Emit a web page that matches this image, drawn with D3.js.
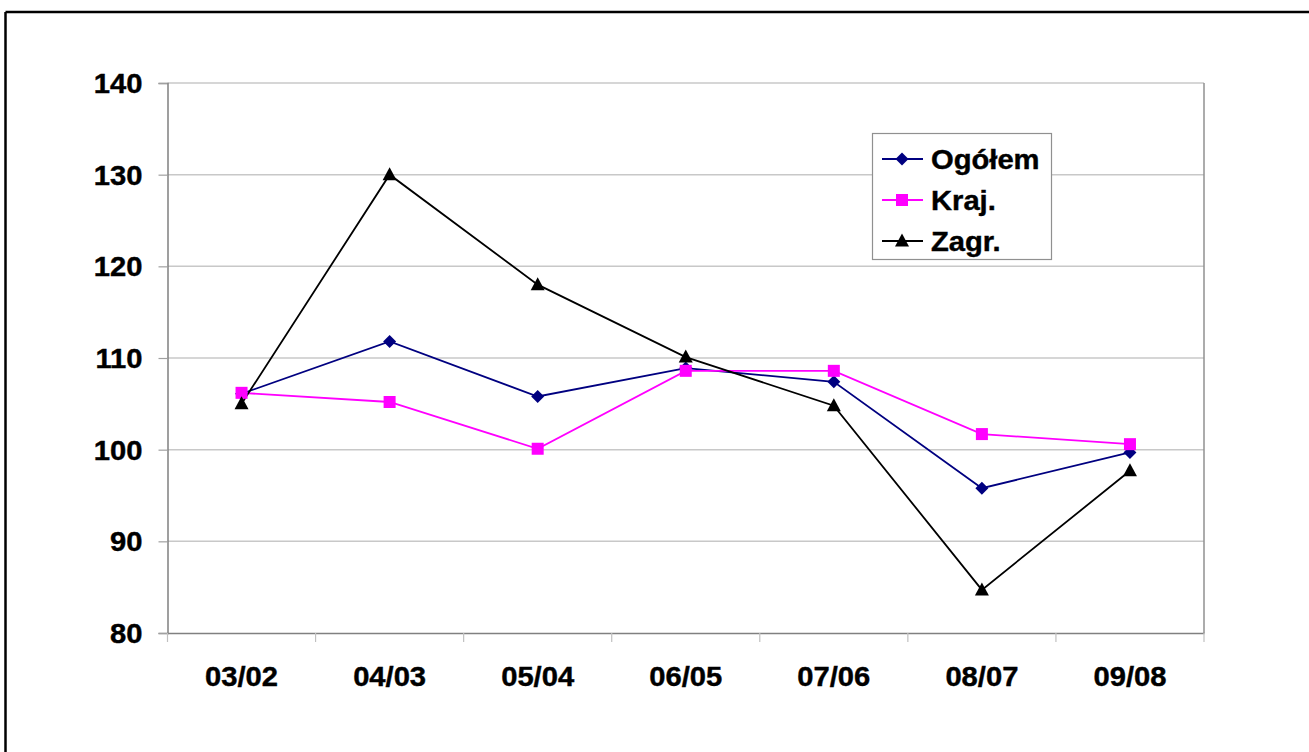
<!DOCTYPE html>
<html>
<head>
<meta charset="utf-8">
<script src="https://cdn.jsdelivr.net/npm/d3@7"></script>
<style>
  html, body { margin: 0; padding: 0; background: #fff; }
  svg { display: block; }
  text { font-family: "Liberation Sans", Arial, sans-serif; font-weight: bold; fill: #000; }
</style>
</head>
<body>
<svg id="chart" width="1309" height="752"></svg>
<script>
const categories = ["03/02", "04/03", "05/04", "06/05", "07/06", "08/07", "09/08"];
const ogolem = [106.1, 111.8, 105.8, 108.9, 107.4, 95.8, 99.7];
const kraj   = [106.2, 105.2, 100.1, 108.6, 108.6, 101.7, 100.6];
const zagr   = [105.0, 130.0, 118.0, 110.1, 104.8, 84.7, 97.7];
const yTicks = [80, 90, 100, 110, 120, 130, 140];
const seriesNames = ["Ogółem", "Kraj.", "Zagr."];

(function () {
const series = [
  { name: seriesNames[0], values: ogolem, color: "#000080", marker: "diamond" },
  { name: seriesNames[1], values: kraj,   color: "#FF00FF", marker: "square" },
  { name: seriesNames[2], values: zagr,   color: "#000000", marker: "triangle" }
];

const svg = d3.select("#chart");
const pL = 167.5, pR = 1204, pT = 83, pB = 633;
const sx = 1.08;

// outer frame (only top and left edges visible)
svg.append("line").attr("x1", 5.5).attr("x2", 1309).attr("y1", 12).attr("y2", 12)
  .attr("stroke", "#000").attr("stroke-width", 2.5);
svg.append("line").attr("x1", 5.5).attr("x2", 5.5).attr("y1", 12).attr("y2", 752)
  .attr("stroke", "#000").attr("stroke-width", 2.5);

const x = d3.scaleBand().domain(categories).range([pL, pR]);
const y = d3.scaleLinear().domain([80, 140]).range([pB, pT]);

// gridlines
svg.append("g").selectAll("line").data(yTicks.filter(t => t > 80)).join("line")
  .attr("x1", pL).attr("x2", pR)
  .attr("y1", d => y(d)).attr("y2", d => y(d))
  .attr("stroke", "#c8c8c8").attr("stroke-width", 1.5);

// right edge of plot area
svg.append("line").attr("x1", pR).attr("x2", pR).attr("y1", pT).attr("y2", pB)
  .attr("stroke", "#909090").attr("stroke-width", 1.5);

// y axis
const yAxis = svg.append("g").attr("transform", `translate(${pL},0)`)
  .call(d3.axisLeft(y).tickValues(yTicks).tickSize(9).tickPadding(0).tickFormat(d3.format("d")));
yAxis.select(".domain").attr("stroke", "#808080").attr("stroke-width", 1.5);
yAxis.selectAll(".tick line").attr("stroke", "#a0a0a0").attr("stroke-width", 1.2);
yAxis.selectAll(".tick text").remove();
yAxis.selectAll(".tick").append("text")
  .attr("text-anchor", "end")
  .attr("transform", "translate(-25,9.5) scale(" + sx + ",1)")
  .attr("font-size", 27)
  .attr("stroke", "#000").attr("stroke-width", 0.4)
  .text(d => d);

// x axis
const xAxis = svg.append("g").attr("transform", `translate(0,${pB})`)
  .call(d3.axisBottom(x).tickSize(0).tickFormat(""));
xAxis.select(".domain").attr("stroke", "#808080").attr("stroke-width", 1.5);
xAxis.selectAll(".tick").remove();
// category boundary ticks
const bounds = categories.map(c => x(c)).concat([x(categories[categories.length - 1]) + x.bandwidth()]);
svg.append("g").selectAll("line").data(bounds).join("line")
  .attr("x1", d => d).attr("x2", d => d)
  .attr("y1", pB).attr("y2", pB + 9)
  .attr("stroke", "#c0c0c0").attr("stroke-width", 1.2);
svg.append("g").selectAll("text").data(categories).join("text")
  .attr("text-anchor", "middle")
  .attr("font-size", 27)
  .attr("stroke", "#000").attr("stroke-width", 0.4)
  .attr("transform", d => `translate(${x(d) + x.bandwidth() / 2},${pB + 53}) scale(${sx},1)`)
  .text(d => d);

// markers
function drawMarker(g, type, color) {
  if (type === "diamond") {
    g.append("path").attr("d", "M0,-6.5L6.5,0L0,6.5L-6.5,0Z").attr("fill", color);
  } else if (type === "square") {
    g.append("rect").attr("x", -6).attr("y", -6).attr("width", 12).attr("height", 12).attr("fill", color);
  } else {
    g.append("path").attr("d", "M0,-7.5L7,5.5L-7,5.5Z").attr("fill", color);
  }
}

const line = d3.line()
  .x((d, i) => x(categories[i]) + x.bandwidth() / 2)
  .y(d => y(d));

series.forEach(s => {
  svg.append("path").datum(s.values).attr("d", line)
    .attr("fill", "none").attr("stroke", s.color).attr("stroke-width", 1.8);
});
series.forEach(s => {
  s.values.forEach((v, i) => {
    const g = svg.append("g").attr("transform", `translate(${x(categories[i]) + x.bandwidth() / 2},${y(v)})`);
    drawMarker(g, s.marker, s.color);
  });
});

// legend
const lg = svg.append("g");
lg.append("rect").attr("x", 872.5).attr("y", 133.5).attr("width", 179).attr("height", 126)
  .attr("fill", "#fff").attr("stroke", "#909090").attr("stroke-width", 1.2);
const rowY = d3.scalePoint().domain(seriesNames).range([159, 241]);
series.forEach(s => {
  const yy = rowY(s.name);
  lg.append("line").attr("x1", 882).attr("x2", 923).attr("y1", yy).attr("y2", yy)
    .attr("stroke", s.color).attr("stroke-width", 1.8);
  const g = lg.append("g").attr("transform", `translate(902,${yy})`);
  drawMarker(g, s.marker, s.color);
  lg.append("text").attr("font-size", 27)
    .attr("stroke", "#000").attr("stroke-width", 0.4)
    .attr("transform", `translate(931,${yy + 9.5}) scale(${sx},1)`)
    .text(s.name);
});
})();
</script>
</body>
</html>
